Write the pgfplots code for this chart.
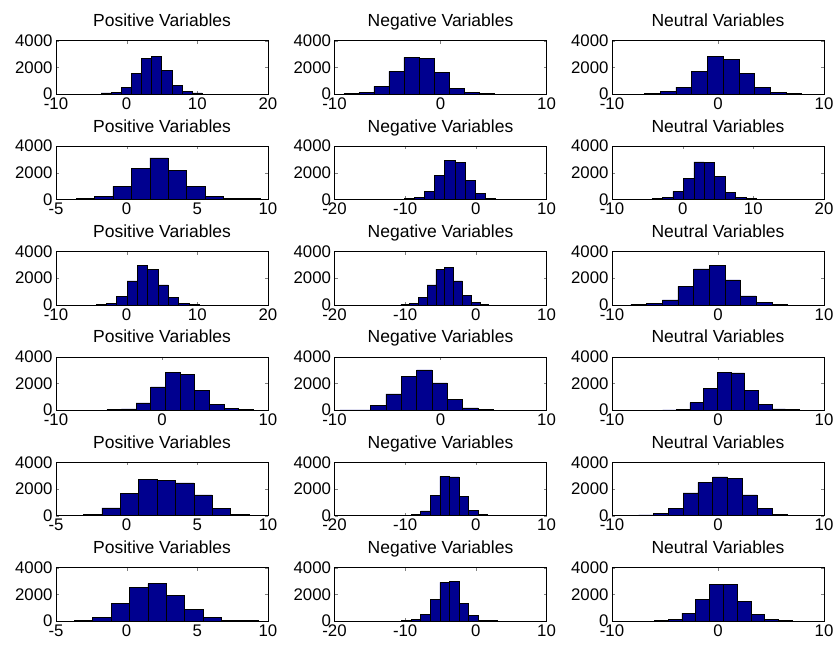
\documentclass[border=0pt]{standalone}
\usepackage{pgfplots}
\pgfplotsset{compat=1.18}
\usepackage{fontspec}
\setmainfont{Liberation Sans}
\definecolor{barblue}{RGB}{0,0,143}
\pgfplotsset{
  hist/.style={
    scale only axis, width=212bp, height=53.3bp,
    anchor=north west,
    ymin=0, ymax=4000, ytick={0,2000,4000},
    tick align=inside, major tick length=3bp,
    axis line style={line width=0.6bp},
    /pgf/number format/assume math mode=true,
    /pgf/number format/1000 sep={},
    tick label style={font=\fontsize{16.8bp}{18bp}\selectfont},
    title style={font=\fontsize{17.5bp}{19bp}\selectfont, at={(0.5,1)}, anchor=base, yshift=8bp},
  },
  hbar/.style={ybar interval, fill=barblue, draw=black, line width=0.5bp},
  rA/.style={xmin=-10,xmax=20,xtick={-10,0,10,20}},
  rB/.style={xmin=-10,xmax=10,xtick={-10,0,10}},
  rC/.style={xmin=-5,xmax=10,xtick={-5,0,5,10}},
  rD/.style={xmin=-20,xmax=10,xtick={-20,-10,0,10}},
}
\begin{document}
\begin{tikzpicture}
\path[use as bounding box] (0,0) rectangle (836bp,-647bp);
% ---------- row 1
\begin{axis}[hist, rA, at={(56bp,-40.7bp)}, title={Positive Variables}]
\addplot[hbar] coordinates {(-3.62,75) (-2.19,125) (-0.76,500) (0.67,1550) (2.10,2675) (3.53,2850) (4.96,1800) (6.39,625) (7.82,225) (9.25,75) (10.68,0)};
\end{axis}
\begin{axis}[hist, rB, at={(334.5bp,-40.7bp)}, title={Negative Variables}]
\addplot[hbar] coordinates {(-9.12,25) (-7.70,100) (-6.29,575) (-4.87,1700) (-3.45,2750) (-2.04,2675) (-0.62,1600) (0.80,450) (2.22,100) (3.63,25) (5.05,0)};
\end{axis}
\begin{axis}[hist, rB, at={(612bp,-40.7bp)}, title={Neutral Variables}]
\addplot[hbar] coordinates {(-6.95,50) (-5.47,200) (-3.98,525) (-2.50,1700) (-1.01,2800) (0.48,2625) (1.96,1525) (3.45,525) (4.93,100) (6.42,25) (7.90,0)};
\end{axis}
% ---------- row 2
\begin{axis}[hist, rC, at={(56bp,-146.1bp)}, title={Positive Variables}]
\addplot[hbar] coordinates {(-3.58,50) (-2.28,250) (-0.97,975) (0.33,2325) (1.64,3125) (2.94,2200) (4.24,975) (5.55,225) (6.85,50) (8.16,50) (9.46,0)};
\end{axis}
\begin{axis}[hist, rD, at={(334.5bp,-146.1bp)}, title={Negative Variables}]
\addplot[hbar] coordinates {(-10.12,75) (-8.69,150) (-7.26,625) (-5.83,1775) (-4.40,2925) (-2.97,2775) (-1.54,1450) (-0.11,425) (1.32,75) (2.75,25) (4.18,0)};
\end{axis}
\begin{axis}[hist, rA, at={(612bp,-146.1bp)}, title={Neutral Variables}]
\addplot[hbar] coordinates {(-4.35,50) (-2.87,150) (-1.39,600) (0.09,1575) (1.57,2825) (3.05,2775) (4.53,1700) (6.01,500) (7.49,125) (8.97,50) (10.45,0)};
\end{axis}
% ---------- row 3
\begin{axis}[hist, rA, at={(56bp,-251.5bp)}, title={Positive Variables}]
\addplot[hbar] coordinates {(-4.33,50) (-2.87,125) (-1.41,625) (0.05,1800) (1.51,2950) (2.97,2675) (4.43,1500) (5.89,575) (7.35,125) (8.81,50) (10.27,0)};
\end{axis}
\begin{axis}[hist, rD, at={(334.5bp,-251.5bp)}, title={Negative Variables}]
\addplot[hbar] coordinates {(-10.6,50) (-9.36,125) (-8.12,550) (-6.88,1500) (-5.64,2675) (-4.40,2800) (-3.16,1800) (-1.92,700) (-0.68,200) (0.56,50) (1.80,0)};
\end{axis}
\begin{axis}[hist, rB, at={(612bp,-251.5bp)}, title={Neutral Variables}]
\addplot[hbar] coordinates {(-8.21,50) (-6.73,100) (-5.26,375) (-3.78,1375) (-2.31,2700) (-0.83,2950) (0.65,1875) (2.12,675) (3.60,175) (5.07,50) (6.55,0)};
\end{axis}
% ---------- row 4
\begin{axis}[hist, rB, at={(56bp,-356.9bp)}, title={Positive Variables}]
\addplot[hbar] coordinates {(-5.21,50) (-3.83,100) (-2.45,550) (-1.07,1750) (0.31,2825) (1.69,2700) (3.07,1500) (4.45,450) (5.83,125) (7.21,50) (8.59,0)};
\end{axis}
\begin{axis}[hist, rB, at={(334.5bp,-356.9bp)}, title={Negative Variables}]
\addplot[hbar] coordinates {(-9.5,25) (-8.05,25) (-6.60,350) (-5.16,1225) (-3.71,2550) (-2.26,3025) (-0.81,2050) (0.64,800) (2.08,175) (3.53,50) (4.98,0)};
\end{axis}
\begin{axis}[hist, rB, at={(612bp,-356.9bp)}, title={Neutral Variables}]
\addplot[hbar] coordinates {(-5.23,25) (-3.94,75) (-2.65,575) (-1.37,1625) (-0.08,2850) (1.21,2800) (2.50,1500) (3.79,450) (5.07,100) (6.36,50) (7.65,0)};
\end{axis}
% ---------- row 5
\begin{axis}[hist, rC, at={(56bp,-462.3bp)}, title={Positive Variables}]
\addplot[hbar] coordinates {(-3.05,100) (-1.75,575) (-0.45,1650) (0.85,2700) (2.15,2650) (3.45,2450) (4.75,1550) (6.05,550) (7.35,100) (8.65,25) (9.95,0)};
\end{axis}
\begin{axis}[hist, rD, at={(334.5bp,-462.3bp)}, title={Negative Variables}]
\addplot[hbar] coordinates {(-10.5,25) (-9.15,75) (-7.8,350) (-6.45,1500) (-5.1,2950) (-3.75,2900) (-2.4,1450) (-1.05,400) (0.3,75) (1.65,25) (3.0,0)};
\end{axis}
\begin{axis}[hist, rB, at={(612bp,-462.3bp)}, title={Neutral Variables}]
\addplot[hbar] coordinates {(-7.5,50) (-6.1,150) (-4.7,550) (-3.3,1700) (-1.9,2500) (-0.5,2900) (0.9,2800) (2.3,1550) (3.7,550) (5.1,100) (6.5,0)};
\end{axis}
% ---------- row 6
\begin{axis}[hist, rC, at={(56bp,-567.7bp)}, title={Positive Variables}]
\addplot[hbar] coordinates {(-3.7,50) (-2.4,250) (-1.1,1300) (0.2,2500) (1.5,2800) (2.8,1900) (4.1,850) (5.4,300) (6.7,75) (8.0,25) (9.3,0)};
\end{axis}
\begin{axis}[hist, rD, at={(334.5bp,-567.7bp)}, title={Negative Variables}]
\addplot[hbar] coordinates {(-10.5,25) (-9.15,100) (-7.8,500) (-6.45,1650) (-5.1,2900) (-3.75,2950) (-2.4,1350) (-1.05,400) (0.3,75) (1.65,25) (3.0,0)};
\end{axis}
\begin{axis}[hist, rB, at={(612bp,-567.7bp)}, title={Neutral Variables}]
\addplot[hbar] coordinates {(-6.0,25) (-4.7,125) (-3.4,600) (-2.1,1650) (-0.8,2750) (0.5,2750) (1.8,1500) (3.1,500) (4.4,100) (5.7,25) (7.0,0)};
\end{axis}
\end{tikzpicture}
\end{document}
